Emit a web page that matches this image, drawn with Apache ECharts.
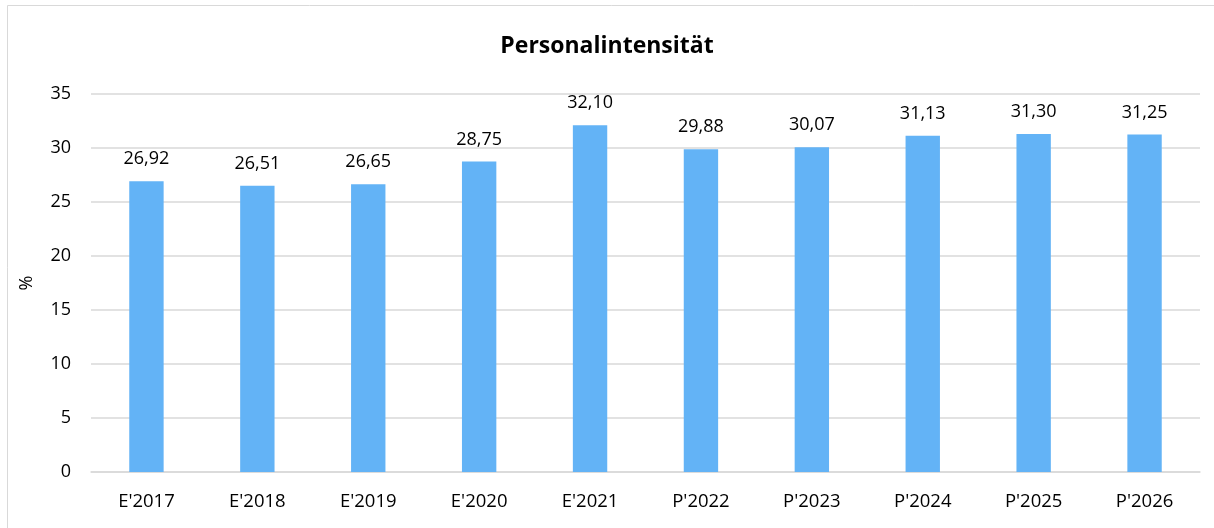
<!DOCTYPE html>
<html>
  <head>
    <meta charset="UTF-8" />
    <title>Personalintensität</title>
    <script src="https://cdn.jsdelivr.net/npm/echarts@6.0.0/dist/echarts.min.js"></script>
    <style>
      html, body { margin: 0; padding: 0; background: #fff; }
    </style>
  </head>
  <body>
    <div id="chart" style="width: 1214px; height: 528px"></div>
  </body>
  <script>
    // data
    const categories = ["E'2017", "E'2018", "E'2019", "E'2020", "E'2021", "P'2022", "P'2023", "P'2024", "P'2025", "P'2026"];
    const values = [26.92, 26.51, 26.65, 28.75, 32.10, 29.88, 30.07, 31.13, 31.30, 31.25];
    const yTicks = { min: 0, max: 35, interval: 5 };

    const font = "'Open Sans', 'Noto Sans', sans-serif";
    let myChart = echarts.init(document.getElementById('chart'));

    myChart.setOption({
      animation: false,
      backgroundColor: '#fff',
      textStyle: { fontFamily: font },
      graphic: [{
        type: 'rect',
        shape: { x: 7.5, y: 5.5, width: 1220, height: 540 },
        style: { fill: 'none', stroke: '#d9d9d9', lineWidth: 1 },
        silent: true
      }],
      title: {
        text: 'Personalintensität',
        left: 'center',
        top: 30,
        textStyle: { fontFamily: font, fontSize: 23, fontWeight: 'bold', color: '#000' }
      },
      grid: { left: 91, right: 14, top: 94, bottom: 56 },
      xAxis: {
        type: 'category',
        data: categories,
        axisLine: { lineStyle: { color: '#d9d9d9', width: 1.5 } },
        axisTick: { show: false },
        axisLabel: { color: '#000', fontSize: 18.5, margin: 20, fontFamily: font }
      },
      yAxis: {
        type: 'value',
        min: yTicks.min,
        max: yTicks.max,
        interval: yTicks.interval,
        name: '%',
        nameLocation: 'middle',
        nameGap: 55,
        nameRotate: 90,
        nameTextStyle: { color: '#000', fontSize: 18, fontFamily: font },
        axisLine: { show: false },
        axisTick: { show: false },
        axisLabel: { color: '#000', fontSize: 18, margin: 20, fontFamily: font },
        splitLine: { lineStyle: { color: '#d9d9d9', width: 1.5 } }
      },
      series: [{
        type: 'bar',
        data: values,
        barWidth: '31%',
        itemStyle: { color: '#63b3f6' },
        label: {
          show: true,
          position: 'top',
          distance: 13,
          color: '#000',
          fontSize: 18,
          fontFamily: font,
          formatter: p => p.value.toFixed(2).replace('.', ',')
        }
      }]
    });
  </script>
</html>
